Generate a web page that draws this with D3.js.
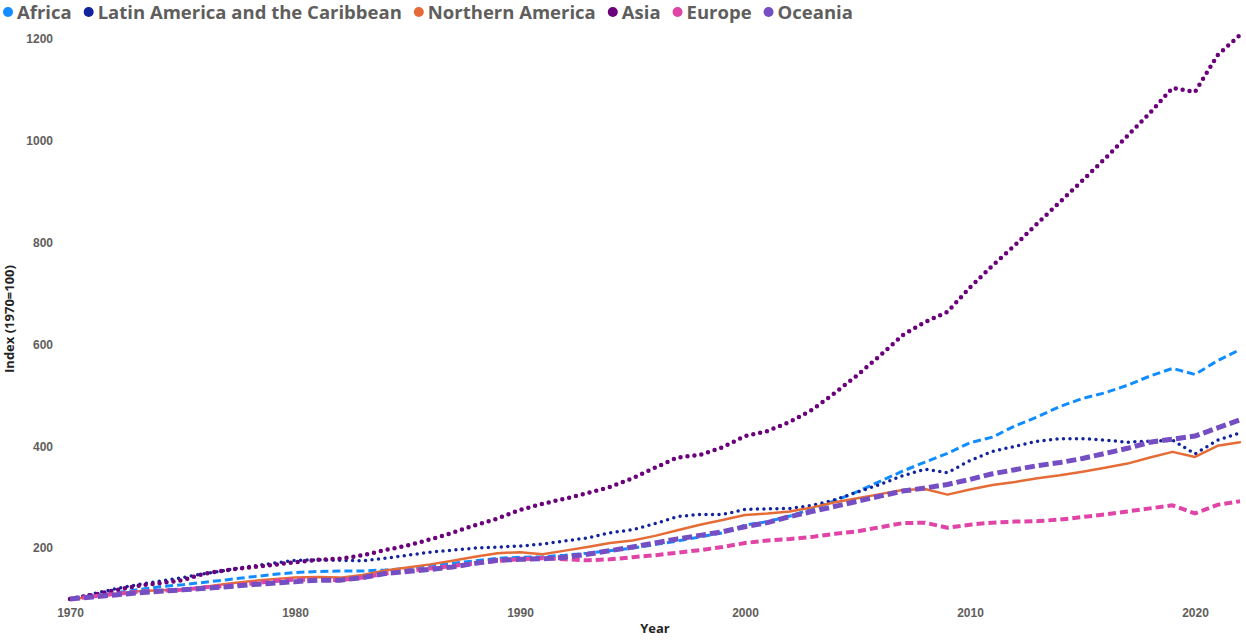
<!DOCTYPE html>
<html>
<head>
<meta charset="utf-8">
<script src="https://cdn.jsdelivr.net/npm/d3@7"></script>
<style>
  body { margin: 0; background: #fff; }
  svg { display: block; font-family: "Open Sans", "Noto Sans", sans-serif; }
  .tick text { font-size: 12px; font-weight: 700; fill: #605E5C; }
  .axis-title { font-size: 13px; font-weight: 700; fill: #252423; }
  .legend text { font-size: 18.5px; font-weight: 700; fill: #605E5C; }
</style>
</head>
<body>
<div id="chart"></div>
<script>
var years = d3.range(1970, 2023);

var africa = [100,106,112,118,124,128,133,138,143,148,152,154,155,155,157,160,165,170,175,180,
  182,183,186,190,195,200,207,214,222,230,245,252,263,277,293,311,331,351,369,386,
  407,418,440,458,478,494,505,520,538,553,541,568,590];
var latam = [100,110,120,128,135,142,150,157,164,170,176,177,176,175,180,186,192,196,200,202,
  204,208,214,220,230,236,248,262,266,266,276,277,278,284,295,310,325,342,355,348,
  372,390,400,410,415,415,412,408,410,412,385,412,426];
var namerica = [100,104,110,115,117,118,124,130,135,139,142,143,142,147,156,162,168,175,183,190,
  192,188,195,202,210,215,224,235,246,255,265,268,272,280,290,298,306,314,316,305,
  315,324,330,337,343,350,358,366,378,389,379,401,408];
var asia = [100,108,117,126,131,137,150,157,162,167,172,177,179,186,196,205,217,230,245,258,
  275,287,297,308,320,337,358,378,383,398,420,430,448,472,505,540,578,618,644,664,
  712,755,795,838,880,922,965,1010,1055,1104,1096,1168,1208];
var europe = [100,105,110,114,116,118,123,126,130,135,138,138,137,142,150,155,160,165,170,175,
  178,180,178,176,178,182,186,191,196,202,210,215,218,222,228,233,241,249,250,240,
  246,250,252,253,256,261,266,272,278,284,268,285,292];
var oceania = [100,104,108,112,115,118,121,124,128,131,134,137,137,142,150,154,158,163,170,176,
  178,179,182,188,195,202,210,218,225,232,242,250,262,272,282,292,302,312,318,325,
  335,346,354,362,368,376,386,396,408,414,420,436,452];

var seriesNames = ["Africa", "Latin America and the Caribbean", "Northern America", "Asia", "Europe", "Oceania"];
var seriesValues = [africa, latam, namerica, asia, europe, oceania];
var yTicks = [200, 400, 600, 800, 1000, 1200];
var xTicks = [1970, 1980, 1990, 2000, 2010, 2020];

var colors = ["#118DFF", "#12239E", "#E66C37", "#6B007B", "#E044A7", "#744EC2"];
var widths = [3, 3.5, 2.5, 4.5, 4, 5];
var dashes = ["8,4", "0,6.5", null, "0,7", "8,4", "10,4"];
var caps = ["butt", "round", "round", "round", "butt", "butt"];

var W = 1246, H = 641;
var svg = d3.select("#chart").append("svg").attr("width", W).attr("height", H);

var x = d3.scaleLinear().domain([1970, 2022]).range([70, 1240]);
var y = d3.scaleLinear().domain([100, 1200]).range([599, 39]);

svg.append("g")
    .attr("transform", "translate(0,600)")
    .call(d3.axisBottom(x).tickValues(xTicks).tickFormat(d3.format("d")).tickSize(0).tickPadding(8))
    .call(function(g) { g.select(".domain").remove(); });

svg.append("g")
    .attr("transform", "translate(53,0)")
    .call(d3.axisLeft(y).tickValues(yTicks).tickFormat(d3.format("d")).tickSize(0).tickPadding(0))
    .call(function(g) { g.select(".domain").remove(); });

svg.append("text").attr("class", "axis-title")
    .attr("x", 655).attr("y", 633).attr("text-anchor", "middle").text("Year");
svg.append("text").attr("class", "axis-title")
    .attr("transform", "translate(14,319) rotate(-90)")
    .attr("text-anchor", "middle").text("Index (1970=100)");

var line = d3.line()
    .x(function(d, i) { return x(years[i]); })
    .y(function(d) { return y(d); });

seriesValues.forEach(function(vals, i) {
  svg.append("path")
      .datum(vals)
      .attr("fill", "none")
      .attr("stroke", colors[i])
      .attr("stroke-width", widths[i])
      .attr("stroke-dasharray", dashes[i])
      .attr("stroke-linecap", caps[i])
      .attr("stroke-linejoin", "round")
      .attr("d", line);
});

// legend
var legend = svg.append("g").attr("class", "legend");
var lx = 8;
seriesNames.forEach(function(name, i) {
  legend.append("circle").attr("cx", lx).attr("cy", 12).attr("r", 5).attr("fill", colors[i]);
  var t = legend.append("text").attr("x", lx + 9).attr("y", 19).text(name);
  lx += 9 + t.node().getComputedTextLength() + 17;
});
</script>
</body>
</html>
